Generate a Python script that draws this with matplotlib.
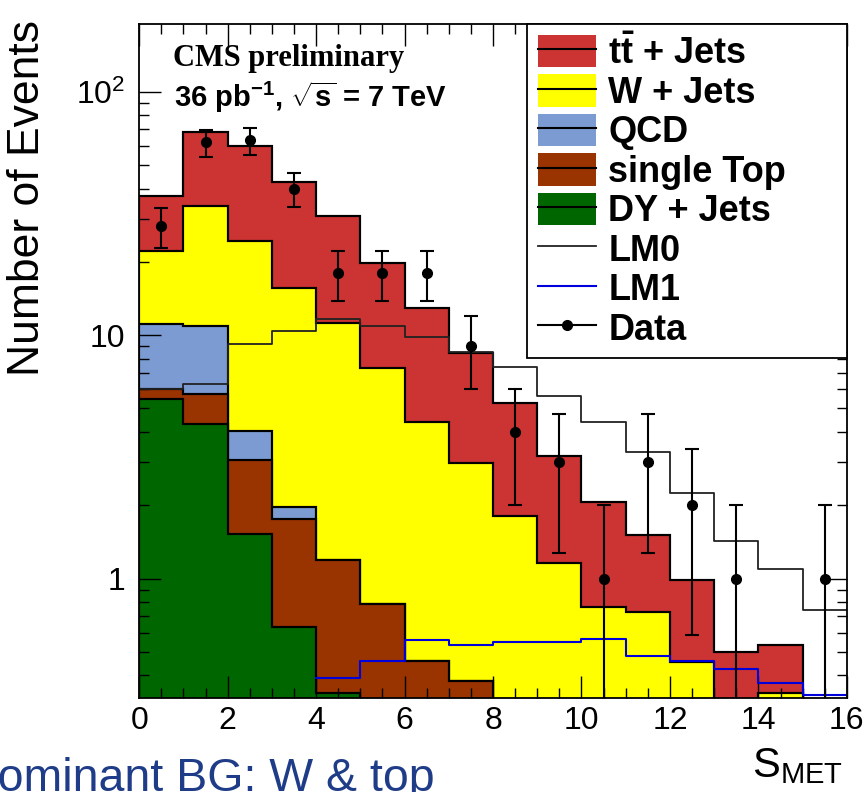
import numpy as np
import matplotlib
matplotlib.use("Agg")
import matplotlib.pyplot as plt
from matplotlib.patches import Patch
from matplotlib.lines import Line2D
from matplotlib.ticker import LogLocator, MultipleLocator, NullFormatter

plt.rcParams['font.family'] = ['Liberation Sans', 'DejaVu Sans']
plt.rcParams['mathtext.fontset'] = 'custom'
plt.rcParams['mathtext.rm'] = 'Liberation Sans'
plt.rcParams['mathtext.bf'] = 'Liberation Sans:bold'
plt.rcParams['mathtext.it'] = 'Liberation Sans:italic'

# S_MET binning, one unit per bin
edges = np.arange(0, 17)

# background processes (events per bin)
dy_jets = [5.45, 4.33, 1.52, 0.63, 0.34, 0, 0, 0, 0, 0, 0, 0, 0, 0, 0, 0]
single_top = [0.58, 1.42, 1.54, 1.13, 0.85, 0.79, 0.46, 0.38, 0, 0, 0, 0, 0, 0, 0, 0]
qcd = [5.07, 5.15, 0.98, 0.21, 0, 0, 0, 0, 0, 0, 0, 0, 0, 0, 0, 0]
w_jets = [11.1, 23.1, 20.4, 13.7, 10.0, 6.57, 3.95, 2.59, 1.81, 1.16, 0.765, 0.73, 0.455, 0, 0.34, 0]
ttbar_jets = [14.9, 34.3, 35.5, 26.7, 19.7, 12.4, 8.5, 5.48, 3.47, 2.02, 1.3, 0.78, 0.53, 0.50, 0.195, 0]

# SUSY benchmark points
lm0 = [6.0, 6.3, 9.2, 10.4, 11.7, 10.9, 9.8, 8.5, 7.4, 5.6, 4.4, 3.3, 2.24, 1.43, 1.10, 0.74]
lm1 = [np.nan, np.nan, np.nan, np.nan, 0.39, 0.46, 0.56, 0.535, 0.55, 0.55, 0.565, 0.48, 0.457, 0.425, 0.372, 0.331]

data = [28, 62, 63, 40, 18, 18, 18, 9, 4, 3, 1, 3, 2, 1, 0, 1]

names = ['DY + Jets', 'single Top', 'QCD', 'W + Jets', r't$\mathbf{\bar{t}}$ + Jets']
colors = ['#006600', '#993300', '#7b9bd2', '#ffff00', '#cc3333']

fig = plt.figure(figsize=(8.65, 7.92), dpi=100)
ax = fig.add_axes([0.161, 0.119, 0.818, 0.851])

stack = np.cumsum([dy_jets, single_top, qcd, w_jets, ttbar_jets], axis=0)
# draw the stack top-down so each lower sum covers the one above
for level in range(len(stack) - 1, -1, -1):
    vals = np.where(stack[level] > 0, stack[level], 1e-3)
    ax.stairs(vals, edges, baseline=1e-3, fill=True, facecolor=colors[level],
              edgecolor='black', linewidth=1.5)
    ax.stairs(vals, edges, baseline=1e-3, fill=False, color='black', linewidth=1.5)

ax.step(edges, np.append(lm0, lm0[-1]), where='post', color='#222222', linewidth=1.3)
ax.step(edges, np.append(lm1, lm1[-1]), where='post', color='#0000dd', linewidth=1.5)

data = np.array(data, dtype=float)
centers = 0.5 * (edges[:-1] + edges[1:])
has = data > 0
ax.errorbar(centers[has], data[has], yerr=np.sqrt(data[has]), fmt='o', color='black',
            markersize=7, elinewidth=1.5, capsize=5, capthick=1.5)

ax.set_yscale('log')
ax.set_xlim(0, 16)
ax.set_ylim(0.324, 190)
ax.set_yticks([1, 10, 100])
ax.set_yticklabels(['1', '10', r'$10^{2}$'])
ax.yaxis.set_minor_locator(LogLocator(base=10, subs=np.arange(2, 10)))
ax.yaxis.set_minor_formatter(NullFormatter())
ax.xaxis.set_major_locator(MultipleLocator(2))
ax.xaxis.set_minor_locator(MultipleLocator(0.5))
ax.tick_params(which='both', direction='in', top=True, right=True, width=1.0)
ax.tick_params(which='major', length=16, labelsize=23)
ax.tick_params(which='minor', length=7.5)
ax.tick_params(axis='x', which='major', pad=6)
ax.tick_params(axis='y', which='major', pad=10)
for s in ax.spines.values():
    s.set_linewidth(1.3)

ax.text(0.048, 0.937, 'CMS preliminary', transform=ax.transAxes, family='Liberation Serif',
        fontweight='bold', fontsize=22, va='baseline')
ax.text(0.049, 0.877, r'36 pb$^{\mathbf{-1}}$, $\sqrt{\mathbf{s}}$ = 7 TeV', transform=ax.transAxes,
        fontweight='bold', fontsize=21, va='baseline')

handles = []
labels = []
for level in range(len(stack) - 1, -1, -1):
    handles.append((Patch(facecolor=colors[level], edgecolor='none'),
                    Line2D([], [], color='black', linewidth=1.5)))
    labels.append(names[level])
handles.append(Line2D([], [], color='#222222', linewidth=1.3))
labels.append('LM0')
handles.append(Line2D([], [], color='#0000dd', linewidth=1.5))
labels.append('LM1')
handles.append(Line2D([], [], color='black', marker='o', markersize=7, linewidth=1.5))
labels.append('Data')
leg = ax.legend(handles, labels, loc='upper left', bbox_to_anchor=(0.548, 0.512, 0.452, 0.488),
                mode='expand', borderaxespad=0, fancybox=False, framealpha=1,
                edgecolor='black', prop={'weight': 'bold', 'size': 26}, labelspacing=0.08,
                handlelength=1.6, handleheight=1.0, handletextpad=0.35, borderpad=0.3)
leg.get_frame().set_linewidth(1.3)

fig.text(0.032, 0.75, 'Number of Events', rotation=90, ha='center', va='center', fontsize=32)
fig.text(0.975, 0.019, r'$\mathrm{S}_{\mathrm{MET}}$', ha='right', va='baseline', fontsize=30)
fig.text(-0.042, 0.001, 'Dominant BG: W & top', ha='left', va='baseline', fontsize=33.5,
         color='#1f3c88')

fig.savefig('out.png', dpi=100)
